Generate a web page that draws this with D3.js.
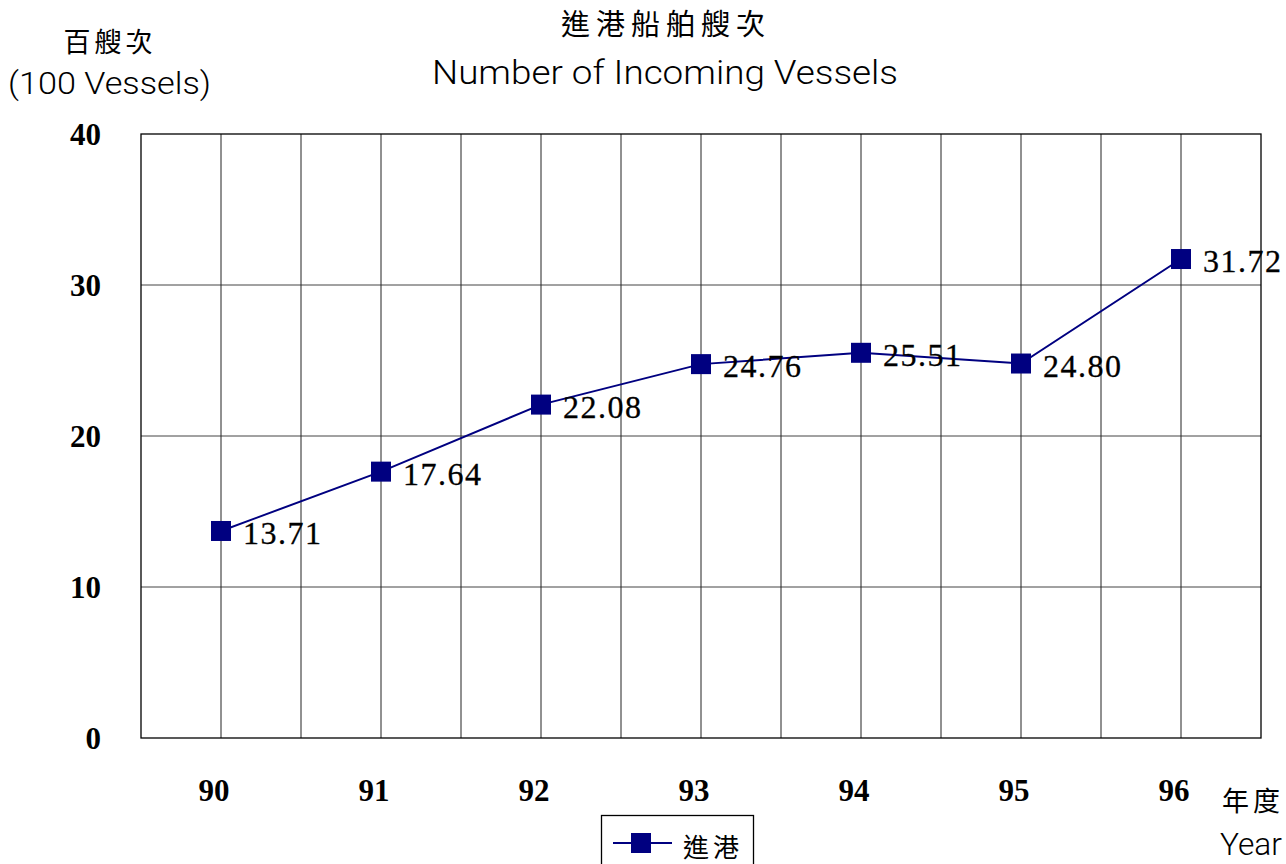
<!DOCTYPE html>
<html><head><meta charset="utf-8">
<script src="https://cdn.jsdelivr.net/npm/d3@7"></script>
<style>body{margin:0;background:#fff}svg{display:block}</style>
</head><body>
<svg id="c" width="1286" height="864"></svg>
<script>
const years = ["90","91","92","93","94","95","96"];
const incoming = [13.71,17.64,22.08,24.76,25.51,24.80,31.72];
const yTicks = [0,10,20,30,40];
const seriesName = "進港";

const svg = d3.select("#c");
const L=141,R=1261,T=134,B=738;
const x = d3.scaleBand().domain(years).range([L,R]).paddingInner(0).paddingOuter(0);
const y = d3.scaleLinear().domain([0,40]).range([B,T]);
const bw = x.bandwidth();
const navy = "#000080";
const serif = "'Liberation Serif','Times New Roman',serif";
const cjk = "'Noto Sans CJK TC','Noto Sans CJK SC',sans-serif";
const sans = "Roboto,'Liberation Sans',sans-serif";

// horizontal gridlines
svg.append("g").selectAll("line").data(yTicks.filter(d=>d>0&&d<40)).join("line")
  .attr("x1",L).attr("x2",R).attr("y1",d=>y(d)).attr("y2",d=>y(d))
  .attr("stroke","#444").attr("stroke-width",1);
// vertical gridlines (band centers and boundaries)
const vlines = [];
years.forEach((c,i)=>{ if(i>0) vlines.push(x(c)); vlines.push(x(c)+bw/2); });
svg.append("g").selectAll("line").data(vlines).join("line")
  .attr("x1",d=>d).attr("x2",d=>d).attr("y1",T).attr("y2",B)
  .attr("stroke","#222").attr("stroke-width",1);
// border
svg.append("rect").attr("x",L).attr("y",T).attr("width",R-L).attr("height",B-T)
  .attr("fill","none").attr("stroke","#000").attr("stroke-width",1.3);

// y axis labels
const yAxis = d3.axisLeft(y).tickValues(yTicks).tickSize(0).tickPadding(0).tickFormat(d3.format("d"));
const gy = svg.append("g").attr("transform",`translate(101,0)`).call(yAxis);
gy.select(".domain").remove();
gy.attr("font-size",null).attr("font-family",null);
gy.selectAll("text").style("font-family",serif).style("font-weight","bold").style("font-size","31px")
  .attr("fill","#000").attr("dy","0.35em");

// x axis labels
const xAxis = d3.axisBottom(x).tickSize(0).tickPadding(0);
const gx = svg.append("g").attr("transform",`translate(-7,${B+52})`).call(xAxis);
gx.select(".domain").remove();
gx.attr("font-size",null).attr("font-family",null);
gx.selectAll("text").style("font-family",serif).style("font-weight","bold").style("font-size","31px")
  .attr("fill","#000").attr("dy","0.35em");

// line
const cx = d=>x(d)+bw/2;
const line = d3.line().x((d,i)=>cx(years[i])).y(d=>y(d));
svg.append("path").datum(incoming).attr("d",line).attr("fill","none")
  .attr("stroke",navy).attr("stroke-width",2);
svg.append("g").selectAll("rect").data(incoming).join("rect")
  .attr("x",(d,i)=>cx(years[i])-10).attr("y",d=>y(d)-10).attr("width",20).attr("height",20)
  .attr("fill",navy);
svg.append("g").selectAll("text").data(incoming).join("text")
  .attr("x",(d,i)=>cx(years[i])+22).attr("y",d=>y(d)+13)
  .attr("font-family",serif).attr("font-size",32).attr("letter-spacing",1.5).attr("fill","#000")
  .attr("stroke","#000").attr("stroke-width",0.3)
  .text(d=>d.toFixed(2));

// titles
svg.append("text").attr("x",666).attr("y",35).attr("text-anchor","middle")
  .attr("font-family",cjk).attr("font-size",29).attr("letter-spacing",6).attr("fill","#000").text("進港船舶艘次");
svg.append("text").attr("x",432).attr("y",84)
  .attr("font-family",sans).attr("font-weight",300).attr("font-size",33).attr("textLength",466).attr("lengthAdjust","spacingAndGlyphs")
  .attr("fill","#000").text("Number of Incoming Vessels");
svg.append("text").attr("x",110).attr("y",52).attr("text-anchor","middle")
  .attr("font-family",cjk).attr("font-size",27).attr("letter-spacing",4).attr("fill","#000").text("百艘次");
svg.append("text").attr("x",8).attr("y",94)
  .attr("font-family",sans).attr("font-weight",300).attr("font-size",31).attr("textLength",203).attr("lengthAdjust","spacingAndGlyphs")
  .attr("fill","#000").text("(100 Vessels)");
svg.append("text").attr("x",1222).attr("y",811)
  .attr("font-family",cjk).attr("font-size",27).attr("letter-spacing",4).attr("fill","#000").text("年度");
svg.append("text").attr("x",1220).attr("y",855)
  .attr("font-family",sans).attr("font-weight",300).attr("font-size",31).attr("textLength",62).attr("lengthAdjust","spacingAndGlyphs")
  .attr("fill","#000").text("Year");

// legend
const lg = svg.append("g");
lg.append("rect").attr("x",601.5).attr("y",815.5).attr("width",152).attr("height",60)
  .attr("fill","#fff").attr("stroke","#000").attr("stroke-width",1.3);
lg.append("line").attr("x1",613).attr("x2",672).attr("y1",843).attr("y2",843).attr("stroke",navy).attr("stroke-width",2);
lg.append("rect").attr("x",631).attr("y",833).attr("width",20).attr("height",20).attr("fill",navy);
lg.append("text").attr("x",683).attr("y",857).attr("font-family",cjk).attr("font-size",26)
  .attr("letter-spacing",4).attr("fill","#000").text(seriesName);
</script>
</body></html>
